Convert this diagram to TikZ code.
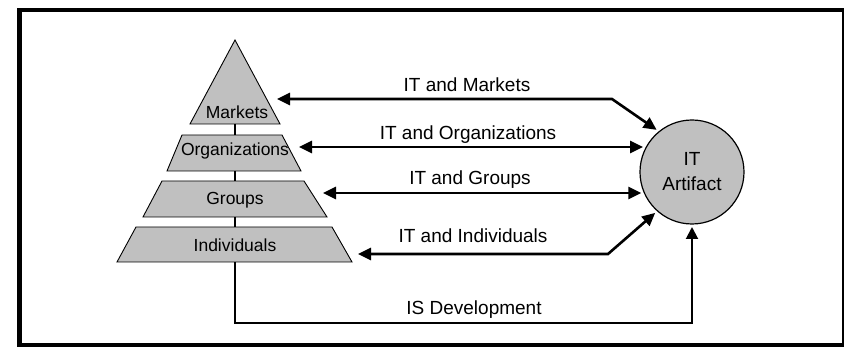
\documentclass[tikz,border=0pt]{standalone}
\usepackage{fontspec}
\setmainfont{Liberation Sans}
\usetikzlibrary{arrows.meta}

\definecolor{lvlgray}{RGB}{192,192,192}

\tikzset{
  level/.style={draw, line width=0.9pt, fill=lvlgray},
  lbl/.style={anchor=base, font=\fontsize{17.5}{20}\selectfont},
  rel/.style={anchor=base, font=\fontsize{19}{22}\selectfont},
  stalk/.style={line width=1.4pt},
  link/.style={line width=2.6pt, {Triangle[length=13pt,width=12pt]}-{Triangle[length=13pt,width=12pt]}},
  devlink/.style={line width=2pt, -{Triangle[length=12pt,width=12pt]}},
}

\begin{document}
\begin{tikzpicture}[x=1pt, y=-1pt]
\useasboundingbox (0,0) rectangle (844,347);
\draw[line width=4.5pt] (19.5,10) rectangle (844.5,345.5);

% The pyramid, top to bottom
\draw[level] (235,40) -- (280,124) -- (190,124) -- cycle;
\draw[level] (182,135) -- (282,135) -- (301,171) -- (167,171) -- cycle;
\draw[level] (162,181) -- (304,181) -- (327,217) -- (143,217) -- cycle;
\draw[level] (136,227) -- (332,227) -- (352,262) -- (117,262) -- cycle;

\node[lbl] (mkt) at (237,119) {Markets};
\node[lbl] (org) at (235,156) {Organizations};
\node[lbl] (grp) at (235,205) {Groups};
\node[lbl] (ind) at (235,252) {Individuals};

\node[circle, draw, line width=1.2pt, fill=lvlgray, minimum size=104pt,
      inner sep=0pt, outer sep=3pt, align=center,
      font=\fontsize{19}{25}\selectfont] (art) at (692,172) {IT\\Artifact};

% Stalks between the levels
\coordinate (mktB) at (235,124);
\coordinate (orgT) at (235,135);
\coordinate (orgB) at (235,171);
\coordinate (grpT) at (235,181);
\coordinate (grpB) at (235,217);
\coordinate (indT) at (235,227);
\coordinate (indB) at (235,262);
\draw[stalk] (mktB) -- (orgT);
\draw[stalk] (orgB) -- (grpT);
\draw[stalk] (grpB) -- (indT);

% Links to the artifact
\coordinate (mktR) at (277,99);
\coordinate (orgR) at (299,147);
\coordinate (grpR) at (323,193);
\coordinate (indR) at (358,254);
\coordinate (bend) at (235,323);
\draw[link] (mktR) -- (612,99) -- (art.130);
\draw[link] (orgR) -- (orgR -| art.153);
\draw[link] (grpR) -- (grpR -| art.203);
\draw[link] (indR) -- (608,254) -- (art.228);
\draw[devlink] (indB) -- (bend) -| (art.south);

\node[rel] (l1) at (467,92)  {IT and Markets};
\node[rel] (l2) at (468,140) {IT and Organizations};
\node[rel] (l3) at (470,185) {IT and Groups};
\node[rel] (l4) at (473,243) {IT and Individuals};
\node[rel] (l5) at (474,315) {IS Development};

\end{tikzpicture}
\end{document}
